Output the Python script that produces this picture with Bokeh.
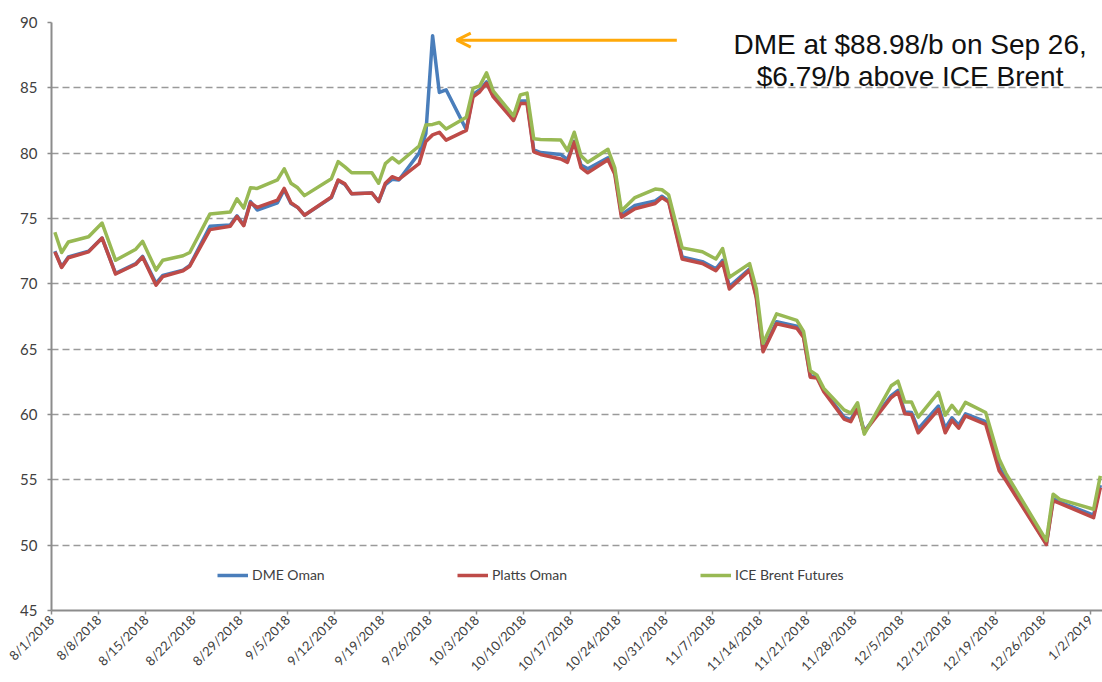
import math
import pandas as pd
from bokeh.plotting import figure
from bokeh.models import (Range1d, FixedTicker, Legend, LegendItem, Arrow, OpenHead,
                          Label, ColumnDataSource)
from bokeh.embed import file_html
from bokeh.resources import INLINE

# ---------------- data ----------------
dates = ["2018-08-01","2018-08-02","2018-08-03","2018-08-06","2018-08-08","2018-08-10","2018-08-13","2018-08-14","2018-08-16","2018-08-17",
         "2018-08-20","2018-08-21","2018-08-24","2018-08-27","2018-08-28","2018-08-29","2018-08-30","2018-08-31","2018-09-03","2018-09-04",
         "2018-09-05","2018-09-06","2018-09-07","2018-09-11","2018-09-12","2018-09-13","2018-09-14","2018-09-17","2018-09-18","2018-09-19",
         "2018-09-20","2018-09-21","2018-09-24","2018-09-25","2018-09-26","2018-09-27","2018-09-28","2018-10-01","2018-10-02","2018-10-03",
         "2018-10-04","2018-10-05","2018-10-08","2018-10-09","2018-10-10","2018-10-11","2018-10-12","2018-10-15","2018-10-16","2018-10-17",
         "2018-10-18","2018-10-19","2018-10-22","2018-10-23","2018-10-24","2018-10-26","2018-10-29","2018-10-30","2018-10-31","2018-11-02",
         "2018-11-05","2018-11-07","2018-11-08","2018-11-09","2018-11-12","2018-11-13","2018-11-14","2018-11-16","2018-11-19","2018-11-20",
         "2018-11-21","2018-11-22","2018-11-23","2018-11-26","2018-11-27","2018-11-28","2018-11-29","2018-12-03","2018-12-04","2018-12-05",
         "2018-12-06","2018-12-07","2018-12-10","2018-12-11","2018-12-12","2018-12-13","2018-12-14","2018-12-17","2018-12-19","2018-12-20",
         "2018-12-26","2018-12-27","2018-12-28","2019-01-02","2019-01-03"]

dme_oman = [72.5,71.3,72.05,72.5,73.5,70.8,71.55,72.1,70.05,70.65,
            71.05,71.4,74.4,74.5,75.2,74.5,76.3,75.65,76.2,77.2,
            76.15,75.85,75.25,76.6,77.9,77.6,76.9,76.95,76.3,77.6,
            78.0,77.95,80.0,81.5,88.98,84.65,84.85,81.8,84.5,84.85,
            85.45,84.4,82.6,84.0,84.0,80.25,80.05,79.9,79.5,80.9,
            79.1,78.8,79.65,78.6,75.3,76.0,76.35,76.7,76.35,72.05,
            71.7,71.15,71.8,69.8,71.15,69.0,64.9,67.1,66.75,66.0,
            62.95,62.9,61.85,59.8,59.6,60.6,58.7,61.45,61.85,60.2,
            60.15,58.9,60.65,58.95,59.75,59.2,60.05,59.45,56.0,55.1,
            50.1,53.55,53.3,52.3,54.6]

platts_oman = [72.45,71.25,72.0,72.45,73.5,70.75,71.5,72.05,69.9,70.55,
               71.0,71.35,74.15,74.4,75.15,74.45,76.2,75.85,76.4,77.3,
               76.2,75.85,75.25,76.65,77.95,77.65,76.9,76.95,76.3,77.7,
               78.2,78.0,79.2,80.9,81.4,81.6,81.0,81.75,84.3,84.7,
               85.35,84.3,82.5,83.8,83.8,80.1,79.9,79.55,79.3,80.85,
               78.9,78.5,79.5,78.4,75.1,75.75,76.15,76.6,76.25,71.9,
               71.55,71.0,71.65,69.6,71.05,68.9,64.8,66.95,66.6,65.9,
               62.85,62.8,61.75,59.65,59.45,60.45,58.65,61.3,61.7,60.05,
               60.0,58.6,60.4,58.6,59.55,58.95,59.9,59.25,55.7,54.95,
               50.05,53.4,53.2,52.1,54.4]

ice_brent = [73.95,72.4,73.2,73.6,74.65,71.8,72.65,73.25,71.05,71.8,
             72.15,72.4,75.35,75.5,76.5,75.8,77.35,77.3,77.95,78.8,
             77.7,77.35,76.75,78.05,79.35,78.95,78.5,78.5,77.7,79.2,
             79.65,79.25,80.55,82.15,82.2,82.35,81.85,82.75,84.95,85.15,
             86.15,84.75,82.85,84.45,84.6,81.1,81.05,81.0,80.2,81.6,
             79.8,79.3,80.3,78.9,75.6,76.6,77.25,77.2,76.8,72.75,
             72.45,71.9,72.7,70.5,71.55,69.6,65.45,67.7,67.2,66.35,
             63.35,63.0,62.0,60.35,60.1,60.9,58.5,62.2,62.55,60.95,
             60.95,59.8,61.7,59.95,60.7,60.05,60.93,60.15,56.6,55.5,
             50.35,53.9,53.5,52.75,55.3]

series_names = ["DME Oman", "Platts Oman", "ICE Brent Futures"]

tick_dates = ["2018-08-01","2018-08-08","2018-08-15","2018-08-22","2018-08-29","2018-09-05","2018-09-12",
              "2018-09-19","2018-09-26","2018-10-03","2018-10-10","2018-10-17","2018-10-24","2018-10-31",
              "2018-11-07","2018-11-14","2018-11-21","2018-11-28","2018-12-05","2018-12-12","2018-12-19",
              "2018-12-26","2019-01-02"]
tick_labels = ["8/1/2018","8/8/2018","8/15/2018","8/22/2018","8/29/2018","9/5/2018","9/12/2018",
               "9/19/2018","9/26/2018","10/3/2018","10/10/2018","10/17/2018","10/24/2018","10/31/2018",
               "11/7/2018","11/14/2018","11/21/2018","11/28/2018","12/5/2018","12/12/2018","12/19/2018",
               "12/26/2018","1/2/2019"]
y_ticks = [45, 50, 55, 60, 65, 70, 75, 80, 85, 90]

annotation_line1 = "DME at $88.98/b on Sep 26,"
annotation_line2 = "$6.79/b above ICE Brent"

# ---------------- helpers ----------------
def ms(s):
    return pd.Timestamp(s).value / 1e6

DAY = 86400000.0
# points sit in the middle of their day slot (Excel date axis style)
x_vals = [ms(d) + DAY / 2 for d in dates]

src = ColumnDataSource(dict(x=x_vals, dme=dme_oman, platts=platts_oman, brent=ice_brent))

FIG_W, FIG_H = 1102, 682
B_LEFT, B_RIGHT, B_TOP, B_BOTTOM = 51, 0, 22, 72
frame_w = FIG_W - B_LEFT - B_RIGHT
px_per_day = 6.745
x_start = ms(tick_dates[0])
x_end = x_start + frame_w / px_per_day * DAY

p = figure(width=FIG_W, height=FIG_H, x_axis_type="datetime",
           x_range=Range1d(x_start, x_end), y_range=Range1d(45, 90),
           output_backend="svg", toolbar_location=None,
           min_border_left=B_LEFT, min_border_right=B_RIGHT,
           min_border_top=B_TOP, min_border_bottom=B_BOTTOM)
p.outline_line_color = None
p.background_fill_color = "white"
p.border_fill_color = "white"

# grid
p.xgrid.grid_line_color = None
p.ygrid.ticker = FixedTicker(ticks=y_ticks)
p.ygrid.grid_line_color = "#9a9a9a"
p.ygrid.grid_line_width = 1.6
p.ygrid.grid_line_dash = "7 4"

FONT = "Lato"
LABEL_COLOR = "#404040"
AXIS_COLOR = "#8c8c8c"

# y axis
ya = p.yaxis[0]
ya.ticker = FixedTicker(ticks=y_ticks)
ya.axis_line_color = AXIS_COLOR
ya.axis_line_width = 2
ya.major_tick_line_color = AXIS_COLOR
ya.major_tick_line_width = 1.5
ya.major_tick_in = 0
ya.major_tick_out = 4
ya.minor_tick_line_color = None
ya.major_label_text_font = FONT
ya.major_label_text_font_size = "15px"
ya.major_label_text_color = LABEL_COLOR
ya.major_label_standoff = 10

# x axis
tick_ms = [ms(d) for d in tick_dates]
xa = p.xaxis[0]
xa.ticker = FixedTicker(ticks=tick_ms)
xa.major_label_overrides = {t: l for t, l in zip(tick_ms, tick_labels)}
xa.axis_line_color = AXIS_COLOR
xa.axis_line_width = 2
xa.major_tick_line_color = AXIS_COLOR
xa.major_tick_line_width = 1.5
xa.major_tick_in = 0
xa.major_tick_out = 4
xa.minor_tick_line_color = None
xa.major_label_orientation = math.pi / 4
xa.major_label_text_font = FONT
xa.major_label_text_font_size = "13px"
xa.major_label_text_color = LABEL_COLOR
xa.major_label_standoff = 3

# series
colors = ["#4a7ebb", "#be4b48", "#98b954"]
r_dme = p.line("x", "dme", source=src, line_color=colors[0], line_width=3.5, line_join="round")
r_pl = p.line("x", "platts", source=src, line_color=colors[1], line_width=3.5, line_join="round")
r_br = p.line("x", "brent", source=src, line_color=colors[2], line_width=3.5, line_join="round")

# legends (one per entry, spread along the bottom of the frame)
for name, rend, xoff in zip(series_names, [r_dme, r_pl, r_br], [166, 406, 649]):
    lg = Legend(items=[LegendItem(label=name, renderers=[rend])], location=(xoff, 27),
                orientation="horizontal", padding=0, margin=0, spacing=0,
                glyph_width=31, glyph_height=16, label_height=16, label_standoff=4,
                label_text_font=FONT, label_text_font_size="14px", label_text_color=LABEL_COLOR,
                border_line_color=None, background_fill_alpha=0)
    p.add_layout(lg, "center")

# annotation arrow + text
arrow_y = 88.65
p.add_layout(Arrow(x_start=ms("2018-11-01 17:00"), y_start=arrow_y,
                   x_end=ms("2018-09-30 02:00"), y_end=arrow_y,
                   line_color="#ffa90a", line_width=3,
                   end=OpenHead(size=14, line_color="#ffa90a", line_width=3)))

txt_x = ms("2018-12-06 07:00")
for txt, ty in [(annotation_line1, 88.35), (annotation_line2, 85.85)]:
    p.add_layout(Label(x=txt_x, y=ty, text=txt, text_align="center", text_baseline="middle",
                       text_font="Liberation Sans", text_font_size="28px", text_color="#111111"))

open("out.html", "w").write(file_html(p, INLINE))
